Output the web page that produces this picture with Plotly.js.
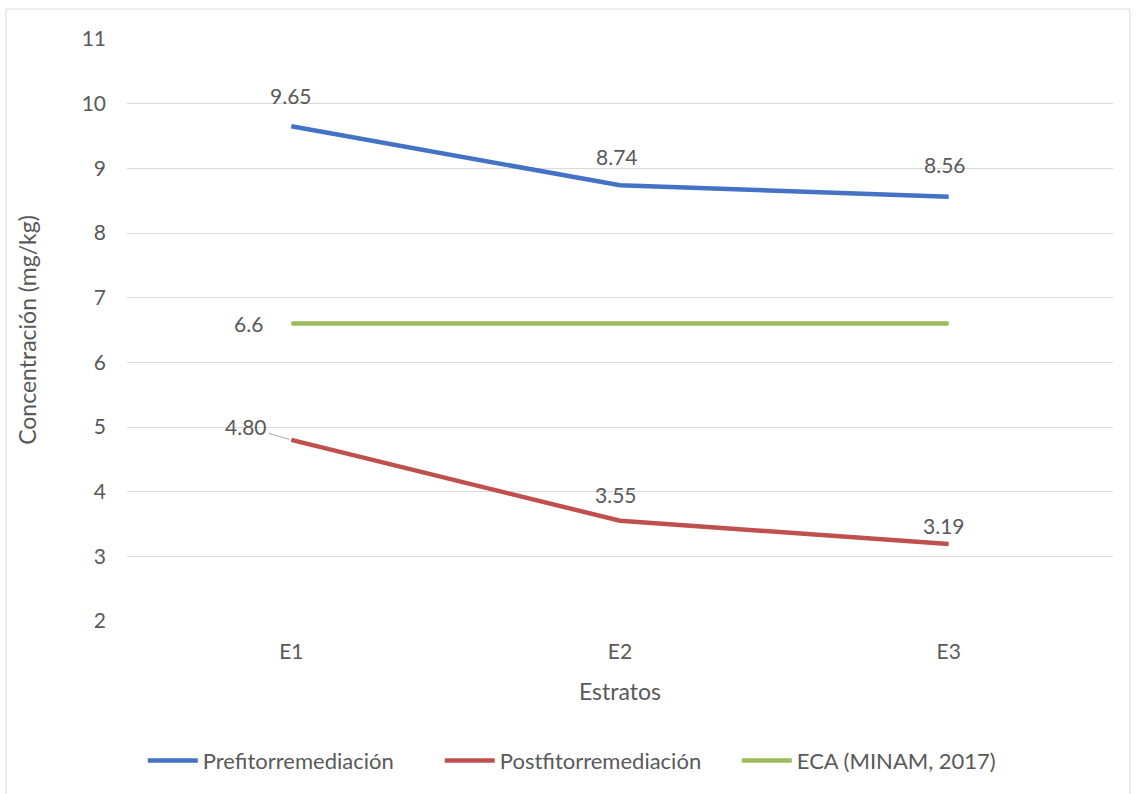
<!DOCTYPE html>
<html>
<head>
<meta charset="utf-8">
<script src="https://cdn.plot.ly/plotly-3.0.1.min.js"></script>
<style>
  html, body { margin: 0; padding: 0; background: #ffffff; }
  #chart { width: 1137px; height: 794px; }
</style>
</head>
<body>
<div id="chart"></div>
<script>
// Strata sampled and measured concentrations (mg/kg)
const estratos = ['E1', 'E2', 'E3'];
const prefito = [9.65, 8.74, 8.56];
const postfito = [4.80, 3.55, 3.19];
const eca = [6.6, 6.6, 6.6];

const seriesNames = ['Prefitorremediación', 'Postfitorremediación', 'ECA (MINAM, 2017)'];
const seriesColors = ['#4472C4', '#C0504D', '#9BBB59'];

// Label formats per series (two decimals for measurements, one for the standard)
const decimals = [2, 2, 1];

// Label placement offsets in pixels, [xshift, yshift] per point
const labelOffsets = [
  [[0, 31], [-3, 29], [-4, 32]],
  [null, [-4, 26], [-5, 19]],
  [[-43, 0], null, null]
];

const textColor = '#595959';
const font = 'Lato, "Open Sans", sans-serif';

const allSeries = [prefito, postfito, eca];

const traces = allSeries.map((vals, i) => ({
  type: 'scatter',
  mode: 'lines',
  x: estratos,
  y: vals,
  name: seriesNames[i],
  line: { color: seriesColors[i], width: 4.5 },
  hoverinfo: 'skip'
}));

const annotations = [];
allSeries.forEach((vals, s) => {
  vals.forEach((v, p) => {
    const off = labelOffsets[s][p];
    if (!off) return;
    annotations.push({
      x: estratos[p], y: v, xref: 'x', yref: 'y',
      text: v.toFixed(decimals[s]),
      showarrow: false,
      xshift: off[0], yshift: off[1],
      font: { family: font, size: 21, color: textColor }
    });
  });
});
// First post-remediation label sits to the left with a leader line
annotations.push({
  x: estratos[0], y: postfito[0], xref: 'x', yref: 'y',
  text: postfito[0].toFixed(2),
  showarrow: true, arrowhead: 0, arrowwidth: 1, arrowcolor: '#a6a6a6',
  ax: -45, ay: -13, standoff: 2,
  font: { family: font, size: 21, color: textColor }
});

const layout = {
  width: 1137,
  height: 794,
  margin: { l: 127, r: 24, t: 39, b: 171 },
  paper_bgcolor: '#ffffff',
  plot_bgcolor: '#ffffff',
  font: { family: font, color: textColor },
  showlegend: true,
  legend: {
    orientation: 'h',
    x: 0.016, xanchor: 'left',
    y: -0.24, yanchor: 'middle',
    font: { family: font, size: 22, color: textColor },
    itemwidth: 50,
    entrywidth: 232,
    entrywidthmode: 'pixels',
    tracegroupgap: 0
  },
  xaxis: {
    type: 'category',
    range: [-0.5, 2.5],
    showgrid: false,
    zeroline: false,
    showline: false,
    ticks: '',
    ticklabelstandoff: 16,
    tickfont: { family: font, size: 21, color: textColor },
    title: { text: 'Estratos', font: { family: font, size: 23, color: textColor }, standoff: 21 }
  },
  yaxis: {
    range: [2, 11],
    dtick: 1,
    showgrid: true,
    gridcolor: '#d9d9d9',
    gridwidth: 1,
    zeroline: false,
    showline: false,
    ticks: '',
    ticklabelstandoff: 20,
    tickfont: { family: font, size: 21, color: textColor },
    title: { text: 'Concentración (mg/kg)', font: { family: font, size: 23, color: textColor }, standoff: 38 }
  },
  annotations: annotations,
  shapes: [{
    type: 'rect', xref: 'paper', yref: 'paper',
    x0: -0.1227, x1: 1.0172, y0: -0.31, y1: 1.0514,
    line: { color: '#d9d9d9', width: 1 },
    layer: 'below'
  }]
};

Plotly.newPlot('chart', traces, layout, { displayModeBar: false, staticPlot: true });
</script>
</body>
</html>
